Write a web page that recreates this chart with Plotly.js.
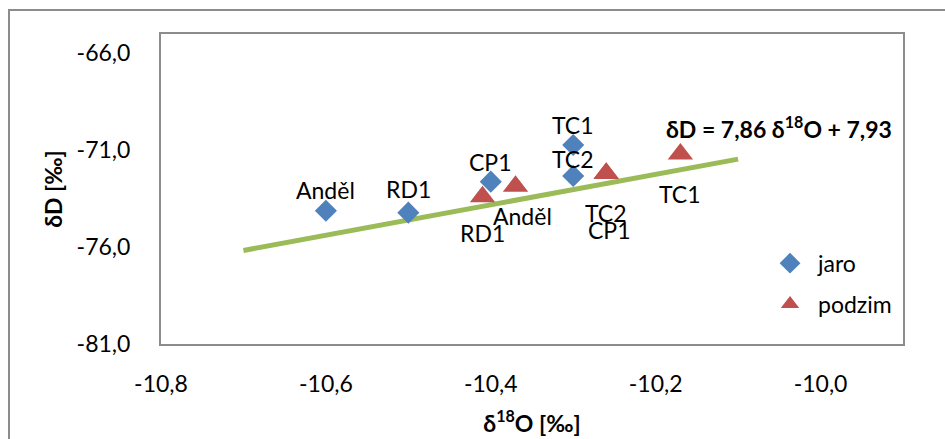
<!DOCTYPE html>
<html>
<head>
<meta charset="utf-8">
<script src="https://cdn.plot.ly/plotly-3.0.1.min.js"></script>
<style>
  html, body { margin: 0; padding: 0; background: #fff; }
  #wrap { position: relative; width: 945px; height: 439px; overflow: hidden; }
  #chart { position: absolute; left: 0; top: 0; width: 945px; height: 439px; }
  #frame { position: absolute; left: 8px; top: 9px; width: 960px; height: 460px;
           border-left: 2px solid #8c8c8c; border-top: 2px solid #8c8c8c; pointer-events: none; }
</style>
</head>
<body>
<div id="wrap">
  <div id="chart"></div>
  <div id="frame"></div>
</div>
<script>
// ---- data ----
const jaroLabels = ["Anděl", "RD1", "CP1", "TC1", "TC2"];
const jaroO18 = [-10.60, -10.50, -10.40, -10.30, -10.30];
const jaroD = [-74.12, -74.22, -72.62, -70.73, -72.33];

const podzimLabels = ["RD1", "Anděl", "TC2", "CP1", "TC1"];
const podzimO18 = [-10.41, -10.37, -10.26, -10.26, -10.17];
const podzimD = [-73.40, -72.86, -72.19, -72.20, -71.19];

const trendO18 = [-10.70, -10.10];
const trendD = [-76.17, -71.46];

const xTickVals = [-10.8, -10.6, -10.4, -10.2, -10.0];
const xTickText = ["-10,8", "-10,6", "-10,4", "-10,2", "-10,0"];
const yTickVals = [-81, -76, -71, -66];
const yTickText = ["-81,0", "-76,0", "-71,0", "-66,0"];

const equationText = "δD = 7,86 δ<sup>18</sup>O + 7,93";
const xTitle = "<b>δ<sup>18</sup>O [‰]</b>";
const yTitle = "<b>δD [‰]</b>";

// label offsets (pixels): spring labels above the marks, autumn labels below
const jaroLabelDy = [21, 24, 20, 20, 17];
const podzimLabelDx = [0, 7, 0, 3, 0];
const podzimLabelDy = [-36, -30, -40, -56, -40];

const FONT = "Lato, 'Open Sans', sans-serif";
const FS = 23;

const traces = [
  {
    x: trendO18, y: trendD, mode: "lines", type: "scatter",
    line: { color: "#9BBB59", width: 5 }, showlegend: false, hoverinfo: "skip"
  },
  {
    x: jaroO18, y: jaroD, name: "jaro", type: "scatter", mode: "markers",
    marker: { symbol: "diamond", size: 17, color: "#4F81BD", line: { width: 0 } },
    legendgroup: "a", cliponaxis: false
  },
  {
    x: podzimO18, y: podzimD, name: "podzim", type: "scatter", mode: "markers",
    marker: { symbol: "triangle-up", size: 22, color: "#C0504D", line: { width: 0 } },
    legendgroup: "b", cliponaxis: false
  }
];

const annotations = [];
jaroLabels.forEach((t, i) => annotations.push({
  x: jaroO18[i], y: jaroD[i], xref: "x", yref: "y",
  text: t, showarrow: false, yshift: jaroLabelDy[i],
  font: { family: FONT, size: FS, color: "#000" }
}));
podzimLabels.forEach((t, i) => annotations.push({
  x: podzimO18[i], y: podzimD[i], xref: "x", yref: "y",
  text: t, showarrow: false, xshift: podzimLabelDx[i], yshift: podzimLabelDy[i],
  font: { family: FONT, size: FS, color: "#000" }
}));
annotations.push({
  x: -10.051, y: -69.85, xref: "x", yref: "y", text: "<b>" + equationText + "</b>",
  showarrow: false, font: { family: FONT, size: 23, color: "#000" }
});

const layout = {
  width: 945, height: 439,
  margin: { l: 161, r: 42, t: 34, b: 95, pad: 0 },
  paper_bgcolor: "#ffffff", plot_bgcolor: "#ffffff",
  font: { family: FONT, size: FS, color: "#000" },
  showlegend: true,
  legend: {
    x: 0.81, y: 0.33, xanchor: "left", yanchor: "top",
    font: { family: FONT, size: FS, color: "#000" },
    bgcolor: "rgba(0,0,0,0)", traceorder: "grouped", tracegroupgap: 8,
    itemwidth: 46
  },
  xaxis: {
    range: [-10.8, -9.9], tickmode: "array", tickvals: xTickVals, ticktext: xTickText,
    showgrid: false, zeroline: false, showline: true, mirror: true,
    linecolor: "#8c8c8c", linewidth: 2, ticks: "", ticklabelstandoff: 18,
    tickfont: { family: FONT, size: FS, color: "#000" },
    title: { text: xTitle, font: { family: FONT, size: FS, color: "#000" }, standoff: 20 }
  },
  yaxis: {
    range: [-81, -65], tickmode: "array", tickvals: yTickVals, ticktext: yTickText,
    showgrid: false, zeroline: false, showline: true, mirror: true,
    linecolor: "#8c8c8c", linewidth: 2, ticks: "", ticklabelstandoff: 24,
    tickfont: { family: FONT, size: FS, color: "#000" },
    title: { text: yTitle, font: { family: FONT, size: FS, color: "#000" }, standoff: 8 }
  },
  annotations: annotations
};

Plotly.newPlot("chart", traces, layout, { staticPlot: true, displayModeBar: false });
</script>
</body>
</html>
